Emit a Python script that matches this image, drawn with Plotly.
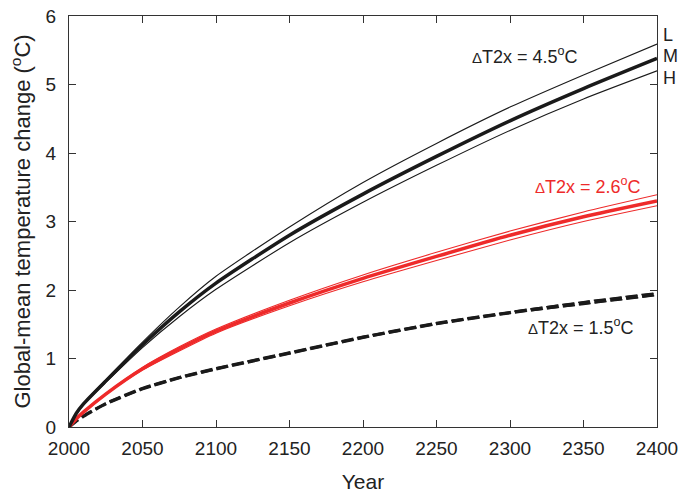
import plotly.graph_objects as go

years = [2000, 2005, 2010, 2025, 2050, 2075, 2100, 2150, 2200, 2250, 2300, 2350, 2400]

# dT2x = 4.5 (black)
high_L = [0, 0.20, 0.35, 0.69, 1.24, 1.75, 2.20, 2.92, 3.57, 4.14, 4.67, 5.14, 5.59]
high_M = [0, 0.20, 0.34, 0.67, 1.20, 1.68, 2.10, 2.80, 3.40, 3.95, 4.47, 4.94, 5.38]
high_H = [0, 0.19, 0.33, 0.65, 1.16, 1.61, 2.01, 2.69, 3.28, 3.82, 4.33, 4.79, 5.20]

# dT2x = 2.6 (red)
mid_L = [0, 0.13, 0.23, 0.49, 0.87, 1.17, 1.43, 1.85, 2.22, 2.55, 2.86, 3.14, 3.39]
mid_M = [0, 0.12, 0.22, 0.48, 0.85, 1.14, 1.40, 1.81, 2.17, 2.49, 2.80, 3.07, 3.30]
mid_H = [0, 0.12, 0.21, 0.47, 0.83, 1.11, 1.37, 1.77, 2.12, 2.43, 2.73, 3.00, 3.23]

# dT2x = 1.5 (dashed black)
low_L = [0, 0.10, 0.17, 0.35, 0.57, 0.73, 0.86, 1.09, 1.32, 1.52, 1.68, 1.83, 1.96]
low_M = [0, 0.09, 0.16, 0.34, 0.56, 0.72, 0.85, 1.08, 1.31, 1.51, 1.67, 1.81, 1.94]
low_H = [0, 0.09, 0.16, 0.33, 0.55, 0.71, 0.84, 1.07, 1.30, 1.50, 1.66, 1.79, 1.92]

label_high = "<span style='font-size:15px'>Δ</span>T2x = 4.5<sup>o</sup>C"
label_mid = "<span style='font-size:15px'>Δ</span>T2x = 2.6<sup>o</sup>C"
label_low = "<span style='font-size:15px'>Δ</span>T2x = 1.5<sup>o</sup>C"
end_labels = ["L", "M", "H"]

FONT = "Liberation Sans, Arial, sans-serif"
BLACK = "#1a1a1a"
RED = "#ee2a2a"
TXT = "#222"

fig = go.Figure()

def add(y, color, width, dash="solid"):
    fig.add_trace(go.Scatter(x=years, y=y, mode="lines",
                             line=dict(color=color, width=width, dash=dash, shape="spline", smoothing=0.6),
                             showlegend=False, hoverinfo="skip"))

add(low_L, BLACK, 1.5, "12px,4px")
add(low_H, BLACK, 1.5, "12px,4px")
add(low_M, BLACK, 3.5, "12px,4px")
add(mid_L, RED, 1.1)
add(mid_H, RED, 1.1)
add(mid_M, RED, 3.5)
add(high_L, BLACK, 1.1)
add(high_H, BLACK, 1.1)
add(high_M, BLACK, 3.5)

fig.add_annotation(x=2310, y=5.42, text=label_high, showarrow=False,
                   font=dict(family=FONT, size=18, color=TXT), xref="x", yref="y")
fig.add_annotation(x=2400, y=3.53, text=label_mid, showarrow=False, xanchor="right",
                   xshift=-14, font=dict(family=FONT, size=18, color=RED), xref="x", yref="y")
fig.add_annotation(x=2348, y=1.46, text=label_low, showarrow=False,
                   font=dict(family=FONT, size=18, color=TXT), xref="x", yref="y")
for lab, yv in zip(end_labels, [5.72, 5.42, 5.09]):
    fig.add_annotation(x=2400, y=yv, text=lab, showarrow=False, xanchor="left", xshift=4,
                       font=dict(family=FONT, size=18, color=TXT), xref="x", yref="y")

axis_common = dict(showline=True, linecolor="#333", linewidth=1.2, mirror="ticks",
                   ticks="inside", ticklen=7, tickcolor="#333", tickwidth=1.2,
                   showgrid=False, zeroline=False,
                   tickfont=dict(family=FONT, size=19, color=TXT))

fig.update_xaxes(range=[2000, 2400], tick0=2000, dtick=50, ticklabelstandoff=4,
                 title=dict(text="Year", font=dict(family=FONT, size=21, color=TXT), standoff=20),
                 **axis_common)
fig.update_yaxes(range=[0, 6], tick0=0, dtick=1, ticklabelstandoff=8,
                 title=dict(text="Global-mean temperature change (<sup>o</sup>C)",
                            font=dict(family=FONT, size=22, color=TXT), standoff=8),
                 **axis_common)

fig.update_layout(width=679, height=493, margin=dict(l=69, r=22, t=16, b=66, autoexpand=False),
                  plot_bgcolor="white", paper_bgcolor="white",
                  font=dict(family=FONT))

fig.write_html("out.html", config={"displayModeBar": False},
               post_script="document.body.style.margin='0';document.body.style.overflow='hidden';")
